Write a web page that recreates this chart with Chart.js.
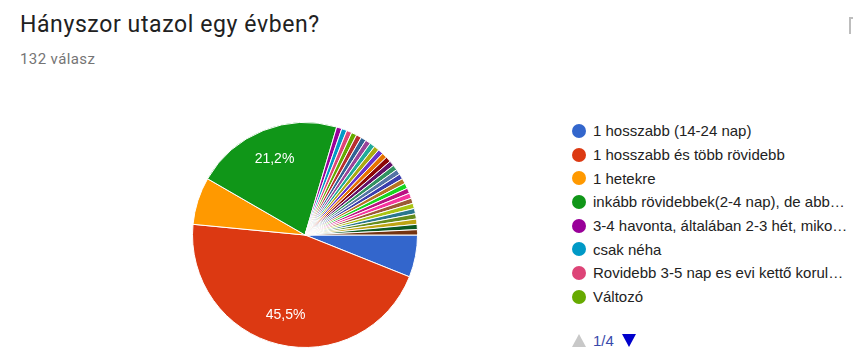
<!DOCTYPE html>
<html>
<head>
<meta charset="utf-8">
<script src="https://cdn.jsdelivr.net/npm/chart.js@4"></script>
<style>
  body { margin: 0; background: #fff; }
  #wrap { position: relative; width: 853px; height: 363px; overflow: hidden; background: #fff; }
  #title { position: absolute; left: 20px; top: 13px; font: 400 23px Roboto, sans-serif; letter-spacing: 0.6px; line-height: 24px; color: #212121; white-space: nowrap; }
  #sub { position: absolute; left: 20px; top: 51px; font: 400 15px Roboto, sans-serif; letter-spacing: 0.4px; line-height: 16px; color: #757575; }
  #icon { position: absolute; left: 849px; top: 17px; width: 10px; height: 15px; border-left: 2px solid #bdbdbd; border-top: 2px solid #bdbdbd; }
  #pie { position: absolute; left: 192px; top: 122px; }
  #legend { position: absolute; left: 572px; top: 119px; width: 281px; }
  .row { height: 23.7px; display: flex; align-items: center; font: 15px Arial, "Liberation Sans", sans-serif; color: #222; white-space: nowrap; }
  .dot { width: 14px; height: 14px; border-radius: 50%; margin-right: 7px; flex: none; }
  #pager { position: absolute; left: 572px; top: 332px; display: flex; align-items: center; font: 15px Arial, "Liberation Sans", sans-serif; color: #3949ab; }
  .up { width: 0; height: 0; border-left: 7px solid transparent; border-right: 7px solid transparent; border-bottom: 13px solid #c8c8c8; margin-right: 7px; }
  .down { width: 0; height: 0; border-left: 7px solid transparent; border-right: 7px solid transparent; border-top: 13px solid #0000cc; margin-left: 8px; }
</style>
</head>
<body>
<div id="wrap">
  <div id="title">Hányszor utazol egy évben?</div>
  <div id="sub">132 válasz</div>
  <div id="icon"></div>
  <canvas id="pie" width="226" height="226"></canvas>
  <div id="legend"></div>
  <div id="pager"><span class="up"></span><span>1/4</span><span class="down"></span></div>
</div>
<script>
// answers, in the order the form lists them (only the first page of the legend is visible)
const answers = [
  "1 hosszabb (14-24 nap)",
  "1 hosszabb és több rövidebb",
  "1 hetekre",
  "inkább rövidebbek(2-4 nap), de abb…",
  "3-4 havonta, általában 2-3 hét, miko…",
  "csak néha",
  "Rovidebb 3-5 nap es evi kettő korul…",
  "Változó",
  "Egyéb válasz 9", "Egyéb válasz 10", "Egyéb válasz 11", "Egyéb válasz 12",
  "Egyéb válasz 13", "Egyéb válasz 14", "Egyéb válasz 15", "Egyéb válasz 16",
  "Egyéb válasz 17", "Egyéb válasz 18", "Egyéb válasz 19", "Egyéb válasz 20",
  "Egyéb válasz 21", "Egyéb válasz 22", "Egyéb válasz 23", "Egyéb válasz 24",
  "Egyéb válasz 25", "Egyéb válasz 26", "Egyéb válasz 27", "Egyéb válasz 28",
  "Egyéb válasz 29", "Egyéb válasz 30", "Egyéb válasz 31"
];
const counts = [8, 60, 9, 28,
  1, 1, 1, 1, 1, 1, 1, 1, 1, 1, 1, 1, 1, 1,
  1, 1, 1, 1, 1, 1, 1, 1, 1, 1, 1, 1, 1];
const colors = ["#3366cc", "#dc3912", "#ff9900", "#109618", "#990099", "#0099c6", "#dd4477",
  "#66aa00", "#b82e2e", "#316395", "#994499", "#22aa99", "#aaaa11", "#6633cc", "#e67300",
  "#8b0707", "#651067", "#329262", "#5574a6", "#3b3eac", "#b77322", "#16d620", "#b91383",
  "#f4359e", "#9c5935", "#a9c413", "#2a778d", "#668d1c", "#bea413", "#0c5922", "#743411"];
const legendPage = 8;

// legend, first page
const legend = document.getElementById("legend");
for (let i = 0; i < legendPage; i++) {
  const row = document.createElement("div");
  row.className = "row";
  row.innerHTML = '<span class="dot" style="background:' + colors[i] + '"></span><span></span>';
  row.lastChild.textContent = answers[i];
  legend.appendChild(row);
}

// percent labels inside the big slices
const sliceLabels = {
  id: "sliceLabels",
  afterDatasetsDraw(chart) {
    const ctx = chart.ctx;
    const data = chart.data.datasets[0].data;
    const total = data.reduce((a, b) => a + b, 0);
    chart.getDatasetMeta(0).data.forEach((arc, i) => {
      const p = data[i] / total;
      if (p < 0.1) return;
      const { x, y, startAngle, endAngle, outerRadius } = arc.getProps(["x", "y", "startAngle", "endAngle", "outerRadius"], true);
      const mid = (startAngle + endAngle) / 2;
      const r = outerRadius * 0.73;
      ctx.save();
      ctx.fillStyle = "#fff";
      ctx.font = "14px Arial, 'Liberation Sans', sans-serif";
      ctx.textAlign = "center";
      ctx.textBaseline = "middle";
      ctx.fillText((p * 100).toFixed(1).replace(".", ",") + "%", x + Math.cos(mid) * r, y + Math.sin(mid) * r);
      ctx.restore();
    });
  }
};

new Chart(document.getElementById("pie"), {
  type: "pie",
  data: {
    labels: answers,
    datasets: [{
      data: counts,
      backgroundColor: colors,
      borderColor: "#ffffff",
      borderWidth: 1
    }]
  },
  options: {
    responsive: false,
    animation: false,
    rotation: 90,
    layout: { padding: 0 },
    plugins: {
      legend: { display: false },
      tooltip: { enabled: false }
    }
  },
  plugins: [sliceLabels]
});
</script>
</body>
</html>
